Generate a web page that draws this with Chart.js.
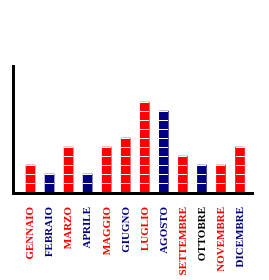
<!DOCTYPE html>
<html>
<head>
<meta charset="utf-8">
<script src="https://cdn.jsdelivr.net/npm/chart.js@4/dist/chart.umd.min.js"></script>
<style>
html,body{margin:0;padding:0;background:#fff;}
#wrap{width:269px;height:280px;position:relative;}
</style>
</head>
<body>
<div id="wrap"><canvas id="c" width="269" height="280"></canvas></div>
<script>
const months = ["GENNAIO","FEBRAIO","MARZO","APRILE","MAGGIO","GIUGNO","LUGLIO","AGOSTO","SETTEMBRE","OTTOBRE","NOVEMBRE","DICEMBRE"];
const values = [3,2,5,2,5,6,10,9,4,3,3,5];
const barColors = ["#ff0000","#000080","#ff0000","#000080","#ff0000","#ff0000","#ff0000","#000080","#ff0000","#000080","#ff0000","#ff0000"];
const labelColors = ["#ff0000","#000080","#ff0000","#000080","#ff0000","#000080","#ff0000","#000080","#ff0000","#000000","#ff0000","#000080"];
const yMax = 14;

const segmentPlugin = {
  id: 'segments',
  afterDatasetsDraw(chart) {
    const ctx = chart.ctx;
    const y = chart.scales.y;
    const meta = chart.getDatasetMeta(0);
    ctx.save();
    ctx.fillStyle = '#ffffff';
    meta.data.forEach((bar, i) => {
      const w = bar.width;
      const left = Math.round(bar.x - w / 2);
      for (let k = 1; k <= values[i]; k++) {
        const py = Math.round(y.getPixelForValue(k));
        ctx.fillRect(left, py, Math.round(w), 1);
      }
    });
    ctx.restore();
  }
};

const axesPlugin = {
  id: 'axesLines',
  afterDraw(chart) {
    const ctx = chart.ctx;
    const y = chart.scales.y;
    const base = Math.round(y.getPixelForValue(0));
    ctx.save();
    ctx.fillStyle = '#000000';
    ctx.fillRect(12, 65, 3, base + 3 - 65);
    ctx.fillRect(12, base, 254 - 12, 3);
    ctx.restore();
  }
};

new Chart(document.getElementById('c'), {
  type: 'bar',
  data: {
    labels: months,
    datasets: [{
      data: values,
      backgroundColor: barColors,
      borderWidth: 0,
      barThickness: 9
    }]
  },
  options: {
    responsive: false,
    animation: false,
    devicePixelRatio: 1,
    layout: { padding: { left: 21, right: 19, top: 66, bottom: 0 } },
    plugins: { legend: { display: false }, tooltip: { enabled: false } },
    scales: {
      x: {
        grid: { display: false, drawTicks: false },
        border: { display: false },
        ticks: {
          autoSkip: false,
          maxRotation: 90,
          minRotation: 90,
          padding: 15,
          font: { family: '"Liberation Serif", "DejaVu Serif", serif', size: 11, weight: 'bold' },
          color: (c) => labelColors[c.index]
        },
        afterFit(scale) { scale.height = 88; }
      },
      y: {
        display: false,
        min: 0,
        max: yMax
      }
    }
  },
  plugins: [segmentPlugin, axesPlugin]
});
</script>
</body>
</html>
